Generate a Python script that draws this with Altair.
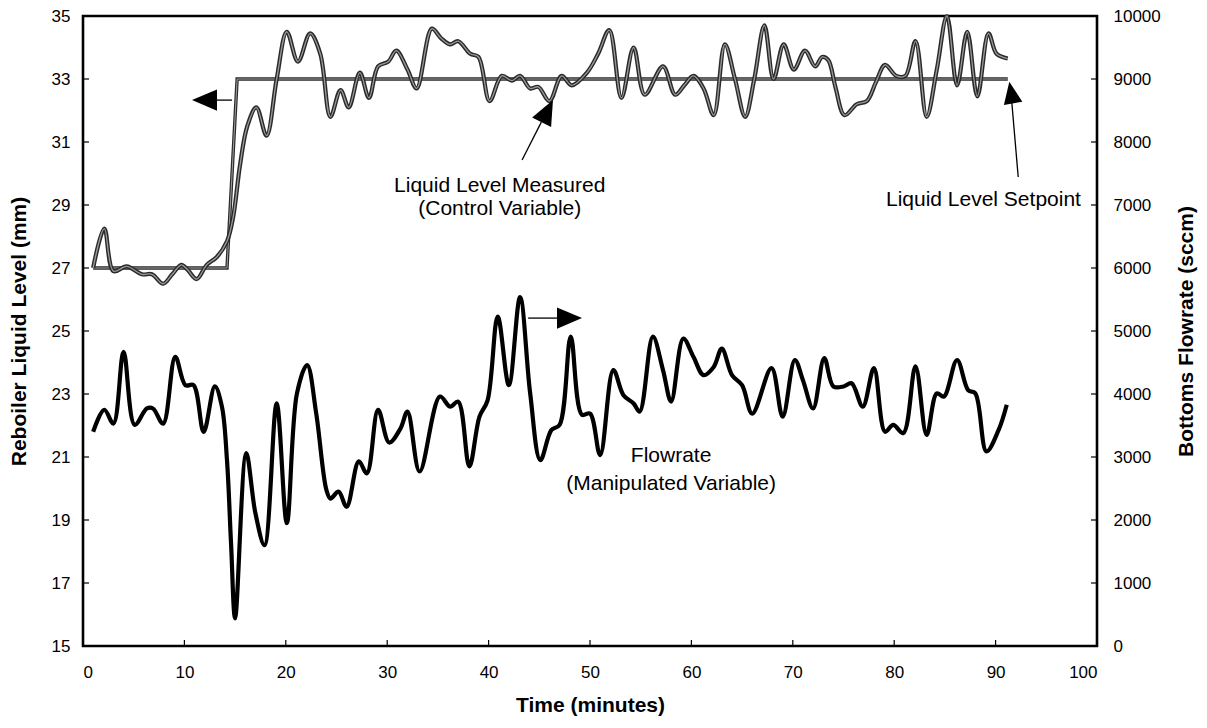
import altair as alt
import pandas as pd

# ---------------- data ----------------
level_t = [1.0, 2.1, 3.0, 4.3, 5.8, 6.8, 7.9, 8.8, 9.7, 10.3, 11.2, 12.2, 13.2, 14.2,
           14.8, 15.5, 16.2, 17.1, 18.1, 19.1, 20.1, 21.2, 22.4, 23.4, 24.4, 25.4,
           26.2, 27.3, 28.2, 29.1, 30.1, 30.9, 32.0, 32.9, 34.4, 35.3, 36.2, 37.0,
           38.2, 39.0, 40.1, 41.3, 42.3, 43.1, 44.1, 44.9, 46.0, 47.2, 48.2, 49.7,
           50.8, 51.9, 53.1, 54.3, 55.4, 57.2, 58.4, 59.3, 60.2, 61.2, 62.2, 63.3,
           64.3, 65.3, 66.2, 67.2, 68.1, 69.1, 70.1, 71.2, 72.2, 72.9, 73.5, 74.2,
           75.1, 76.3, 77.3, 78.2, 79.1, 80.2, 81.1, 82.1, 83.2, 84.2, 85.2, 86.2,
           87.2, 88.2, 89.3, 90.1, 91.2]
level_v = [27.0, 28.25, 26.9, 27.05, 26.8, 26.8, 26.5, 26.8, 27.1, 26.95, 26.65, 27.1,
           27.35, 27.85, 28.6, 30.3, 31.5, 32.1, 31.2, 33.0, 34.5, 33.55, 34.45, 33.8,
           31.8, 32.65, 32.1, 33.2, 32.4, 33.4, 33.55, 33.9, 33.3, 32.7, 34.6, 34.3,
           34.1, 34.2, 33.8, 33.7, 32.3, 33.1, 32.95, 33.1, 32.7, 32.75, 32.3, 33.1,
           32.8, 33.2, 33.8, 34.55, 32.4, 34.0, 32.5, 33.4, 32.5, 32.8, 33.1, 32.7,
           31.85, 34.1, 33.0, 31.8, 33.0, 34.7, 33.0, 34.1, 33.3, 33.9, 33.4, 33.7,
           33.6, 32.75, 31.85, 32.2, 32.3, 32.9, 33.45, 33.1, 33.1, 34.2, 31.8, 33.3,
           35.0, 32.8, 34.5, 32.45, 34.45, 33.8, 33.65]

flow_t = [1.0, 2.1, 3.0, 4.0, 5.1, 6.3, 6.9, 7.9, 9.1, 10.1, 10.9, 11.9, 13.0, 13.7,
          14.2, 14.6, 15.0, 16.1, 17.0, 17.9, 19.1, 20.1, 21.1, 22.1, 23.0, 24.0,
          24.4, 25.2, 26.0, 27.2, 28.0, 29.1, 30.2, 31.3, 32.0, 33.2, 35.2, 36.2,
          37.0, 38.1, 39.1, 39.9, 40.9, 42.0, 43.1, 44.1, 45.1, 46.2, 47.0, 48.1,
          49.2, 50.0, 51.0, 52.3, 53.3, 54.3, 54.9, 56.2, 57.2, 58.0, 59.2, 60.2,
          61.2, 62.2, 63.0, 64.0, 65.0, 66.0, 67.9, 69.0, 70.2, 71.0, 72.0, 73.1,
          74.0, 75.0, 75.8, 76.9, 78.0, 79.1, 79.9, 80.9, 82.1, 83.2, 84.2, 84.9,
          86.2, 87.3, 88.0, 89.1, 90.3, 91.1]
flow_v = [3400, 3750, 3530, 4670, 3510, 3770, 3770, 3530, 4590, 4140, 4140, 3400,
          4120, 3800, 2950, 1630, 440, 3060, 2110, 1600, 3850, 1950, 4010, 4460,
          3690, 2480, 2340, 2450, 2210, 2930, 2740, 3750, 3230, 3450, 3720, 2770,
          3960, 3800, 3880, 2850, 3640, 3900, 5230, 4140, 5540, 4010, 2950, 3430,
          3510, 4910, 3670, 3690, 3030, 4380, 3980, 3850, 3720, 4910, 4380, 3880,
          4880, 4590, 4300, 4430, 4720, 4300, 4140, 3690, 4410, 3640, 4540, 4220,
          3770, 4570, 4120, 4120, 4170, 3800, 4410, 3400, 3510, 3380, 4440, 3350,
          4010, 3960, 4540, 4060, 4010, 3090, 3430, 3830]

setpoint_t = [1.0, 14.2, 15.2, 91.2]
setpoint_v = [27.0, 27.0, 33.0, 33.0]

x_ticks = list(range(0, 101, 10))
left_ticks = list(range(15, 36, 2))
right_ticks = list(range(0, 10001, 1000))

label_text = ["Liquid Level Measured", "(Control Variable)", "Liquid Level Setpoint",
              "Flowrate", "(Manipulated Variable)"]
label_t = [41.1, 41.1, 88.8, 58.0, 58.0]
label_v = [29.41, 28.68, 28.97, 20.84, 19.95]

arrow_t = [13.2, 43.9, 45.2, 91.58]
arrow_v = [32.33, 25.41, 31.63, 32.33]
arrow_t2 = [14.7, 46.9, 43.3, 92.23]
arrow_v2 = [32.33, 25.41, 30.43, 29.89]

head_t = [11.98, 47.98, 45.79, 91.54]
head_v = [32.33, 25.41, 31.98, 32.57]
head_angle = [270, 90, 27, 350]
head_size = [625, 625, 625, 484]

# ---------------- chart ----------------
FONT = "Liberation Sans"
W, H = 1014, 630

xscale = alt.Scale(domain=[0, 100], nice=False, zero=False)
lscale = alt.Scale(domain=[15, 35], nice=False, zero=False)
rscale = alt.Scale(domain=[0, 10000], nice=False, zero=False)

common_axis = dict(grid=False, ticks=False, tickSize=0, domain=False,
                   labelFont=FONT, labelFontSize=17, labelColor="black",
                   titleFont=FONT, titleFontSize=21, titleFontWeight="bold",
                   titleColor="black")

x_axis = alt.Axis(values=x_ticks, title="Time (minutes)", labelPadding=18,
                  titlePadding=14, **common_axis)
left_axis = alt.Axis(values=left_ticks, title="Reboiler Liquid Level (mm)",
                     orient="left", labelPadding=13, titlePadding=22,
                     titleAngle=270, titleBaseline="bottom", **common_axis)
right_axis = alt.Axis(values=right_ticks, title="Bottoms Flowrate (sccm)", format="d",
                      orient="right", labelPadding=16, titlePadding=15,
                      titleAngle=270, titleBaseline="top", **common_axis)

X = alt.X("t:Q", scale=xscale, axis=x_axis)
YL = alt.Y("v:Q", scale=lscale, axis=left_axis)
YR = alt.Y("f:Q", scale=rscale, axis=right_axis)

level_df = pd.DataFrame({"t": level_t, "v": level_v})
flow_df = pd.DataFrame({"t": flow_t, "f": flow_v})
sp_df = pd.DataFrame({"t": setpoint_t, "v": setpoint_v})
lab_df = pd.DataFrame({"t": label_t, "v": label_v, "text": label_text})
arr_df = pd.DataFrame({"t": arrow_t, "v": arrow_v, "t2": arrow_t2, "v2": arrow_v2})
head_df = pd.DataFrame({"t": head_t, "v": head_v, "a": head_angle, "s": head_size})
xt_df = pd.DataFrame({"t": x_ticks[1:-1]})
lt_df = pd.DataFrame({"v": left_ticks[1:-1]})
rt_df = pd.DataFrame({"f": right_ticks[1:-1]})

setpoint_outer = alt.Chart(sp_df).mark_line(color="#2a2a2a", strokeWidth=3.4).encode(x=X, y=YL)
setpoint_inner = alt.Chart(sp_df).mark_line(color="#a0a0a0", strokeWidth=1.0).encode(x=X, y=YL)

level_outer = alt.Chart(level_df).mark_line(
    interpolate="catmull-rom", color="#2a2a2a", strokeWidth=4.2).encode(x=X, y=YL)
level_inner = alt.Chart(level_df).mark_line(
    interpolate="catmull-rom", color="#9a9a9a", strokeWidth=1.3).encode(x=X, y=YL)

arrows = alt.Chart(arr_df).mark_rule(color="black", strokeWidth=1.3).encode(
    x=X, y=YL, x2="t2:Q", y2="v2:Q")

heads = alt.Chart(head_df).mark_point(
    shape="M0,-1L-0.85,1L0.85,1Z", filled=True, color="black", opacity=1).encode(
    x=X, y=YL,
    angle=alt.Angle("a:Q", scale=None),
    size=alt.Size("s:Q", scale=None, legend=None))

labels = alt.Chart(lab_df).mark_text(
    font=FONT, fontSize=21, color="black", align="center", baseline="alphabetic").encode(
    x=X, y=YL, text="text:N")

x_tick_marks = alt.Chart(xt_df).mark_rule(color="black", strokeWidth=1.2).encode(
    x=X, y=alt.value(H), y2=alt.value(H - 6))
left_tick_marks = alt.Chart(lt_df).mark_rule(color="black", strokeWidth=1.2).encode(
    y=YL, x=alt.value(0), x2=alt.value(6))

left_group = alt.layer(setpoint_outer, setpoint_inner, level_outer, level_inner,
                       arrows, heads, labels, x_tick_marks, left_tick_marks)

flow_line = alt.Chart(flow_df).mark_line(
    interpolate="catmull-rom", color="black", strokeWidth=4.2).encode(x=X, y=YR)
right_tick_marks = alt.Chart(rt_df).mark_rule(color="black", strokeWidth=1.2).encode(
    y=YR, x=alt.value(W), x2=alt.value(W - 6))

right_group = alt.layer(flow_line, right_tick_marks)

chart = alt.layer(left_group, right_group).resolve_scale(y="independent").properties(
    width=W, height=H,
    autosize=alt.AutoSizeParams(type="none"),
    padding={"left": 75, "top": 8, "right": 102, "bottom": 74},
    background="white",
).configure_view(stroke="black", strokeWidth=2.6, fill="white")

chart.save("out.html", embed_options={"renderer": "svg", "actions": False})
